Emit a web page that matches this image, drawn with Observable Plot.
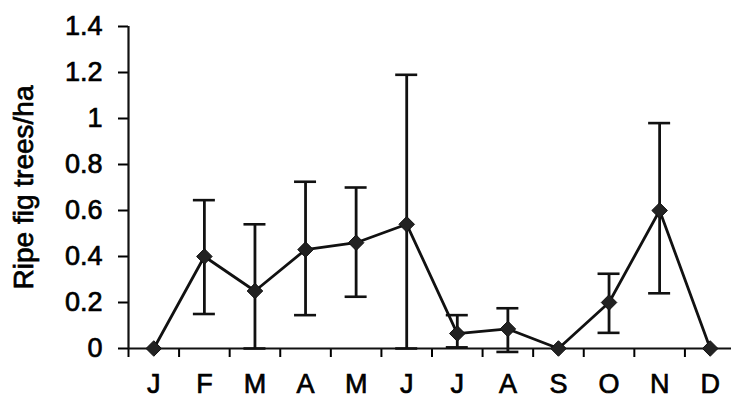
<!DOCTYPE html>
<html><head><meta charset="utf-8">
<script src="https://cdn.jsdelivr.net/npm/d3@7"></script>
<script src="https://cdn.jsdelivr.net/npm/@observablehq/plot@0.6"></script>
<style>
body{margin:0;background:#fff}
#chart svg{font-family:"Liberation Sans",Arial,sans-serif;}
#chart svg text{stroke:#000;stroke-width:0.7px;}
</style>
</head><body><div id="chart"></div>
<script>
// Data
const monthLabels = ["J","F","M","A","M","J","J","A","S","O","N","D"];
const monthIndex = [0,1,2,3,4,5,6,7,8,9,10,11];
const means = [0, 0.40, 0.25, 0.43, 0.46, 0.54, 0.065, 0.085, 0, 0.20, 0.60, 0];
const upper = [null, 0.645, 0.54, 0.725, 0.70, 1.19, 0.145, 0.175, null, 0.325, 0.98, null];
const lower = [null, 0.15, 0, 0.145, 0.225, 0, 0.005, -0.015, null, 0.068, 0.24, null];
const yTicks = [0, 0.2, 0.4, 0.6, 0.8, 1, 1.2, 1.4];
const boundaryTicks = [0,1,2,3,4,5,6,7,8,9,10,11,12];

const rows = monthIndex.map(i => ({pos: i + 0.5, label: monthLabels[i], mean: means[i], hi: upper[i], lo: lower[i]}));
const bars = rows.filter(d => d.hi != null);
const centerTicks = rows.map(d => d.pos);

const chart = Plot.plot({
  width: 731,
  height: 400,
  marginLeft: 128,
  marginRight: -4,
  marginTop: 26,
  marginBottom: 52,
  style: {fontFamily: '"Liberation Sans", Arial, sans-serif', color: "#000", background: "#fff"},
  x: {domain: [0, 12], axis: null},
  y: {domain: [0, 1.4], axis: null},
  marks: [
    Plot.axisY({ticks: yTicks, tickSize: 10, tickPadding: 16, fontSize: 27, strokeWidth: 2, label: null, tickFormat: d => String(d)}),
    Plot.axisY({ticks: [], label: "Ripe fig trees/ha", labelAnchor: "center", labelArrow: "none", labelOffset: 115, fontSize: 28}),
    Plot.axisX({ticks: boundaryTicks, tickSize: 9, tickFormat: () => "", strokeWidth: 2, label: null}),
    Plot.axisX({ticks: centerTicks, tickSize: 0, tickPadding: 25, fontSize: 27, label: null, tickFormat: d => monthLabels[Math.floor(d)]}),
    Plot.ruleX([0], {y1: 0, y2: 1.4, stroke: "#111", strokeWidth: 2.2}),
    Plot.ruleY([0], {stroke: "#111", strokeWidth: 2.2}),
    Plot.ruleX(bars, {x: "pos", y1: "lo", y2: "hi", stroke: "#111", strokeWidth: 2.8}),
    Plot.ruleY(bars, {x1: "pos", x2: "pos", y: "hi", insetLeft: -11, insetRight: -11, stroke: "#111", strokeWidth: 2.6}),
    Plot.ruleY(bars, {x1: "pos", x2: "pos", y: "lo", insetLeft: -11, insetRight: -11, stroke: "#111", strokeWidth: 2.6}),
    Plot.line(rows, {x: "pos", y: "mean", stroke: "#111", strokeWidth: 2.8}),
    Plot.dot(rows, {x: "pos", y: "mean", symbol: "diamond2", r: 7, fill: "#222", stroke: "#111", strokeWidth: 1})
  ]
});
document.getElementById("chart").appendChild(chart);
</script>
</body></html>
